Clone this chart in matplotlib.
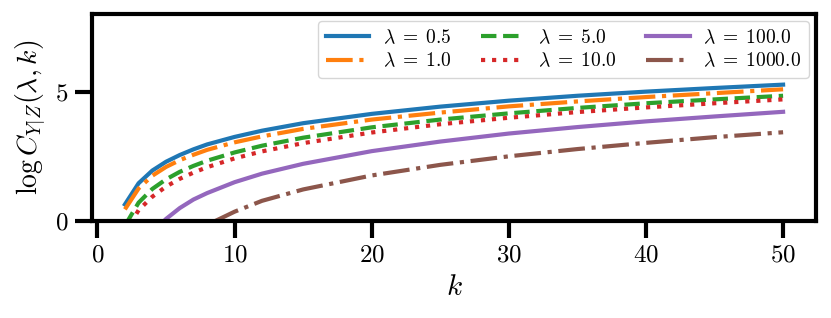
import matplotlib
matplotlib.use("Agg")
import matplotlib.pyplot as plt

plt.rcParams['font.family'] = 'serif'
plt.rcParams['font.serif'] = ['cmr10', 'DejaVu Serif']
plt.rcParams['mathtext.fontset'] = 'cm'
plt.rcParams['axes.formatter.use_mathtext'] = True

# k values sampled along the curves
k = [2, 3, 4, 5, 6, 7, 8, 10, 12, 15, 20, 25, 30, 35, 40, 45, 50]

lambdas = [0.5, 1.0, 5.0, 10.0, 100.0, 1000.0]

logC_05 = [0.64, 1.46, 1.95, 2.29, 2.55, 2.77, 2.96, 3.25, 3.49, 3.78, 4.14, 4.42, 4.65, 4.84, 5.00, 5.14, 5.27]
logC_1 = [0.45, 1.26, 1.75, 2.09, 2.35, 2.56, 2.75, 3.04, 3.27, 3.56, 3.92, 4.19, 4.43, 4.62, 4.79, 4.94, 5.09]
logC_5 = [-0.18, 0.71, 1.24, 1.61, 1.90, 2.13, 2.33, 2.65, 2.91, 3.22, 3.62, 3.92, 4.16, 4.37, 4.55, 4.70, 4.84]
logC_10 = [-0.45, 0.42, 0.94, 1.33, 1.63, 1.87, 2.08, 2.42, 2.69, 3.01, 3.42, 3.74, 3.99, 4.21, 4.39, 4.55, 4.70]
logC_100 = [-2.0, -1.1, -0.45, 0.08, 0.50, 0.83, 1.08, 1.50, 1.83, 2.21, 2.70, 3.07, 3.38, 3.63, 3.85, 4.04, 4.22]
logC_1000 = [-4.2, -2.9, -2.0, -1.4, -0.9, -0.5, -0.15, 0.36, 0.78, 1.22, 1.76, 2.17, 2.50, 2.78, 3.02, 3.24, 3.43]

series = [logC_05, logC_1, logC_5, logC_10, logC_100, logC_1000]
styles = ['-', '-.', '--', ':', '-', '-.']

fig = plt.figure(figsize=(8.31, 3.18), dpi=100)
ax = fig.add_axes([92 / 831, 97 / 318, 724 / 831, 207 / 318])

for i in range(len(series)):
    ax.plot(k, series[i], linestyle=styles[i], color='C%d' % i, linewidth=3,
            label=r'$\lambda \;=\; %s$' % lambdas[i])

ax.set_ylim(0, 8)
ax.set_xticks([0, 10, 20, 30, 40, 50])
ax.set_yticks([0, 5])
ax.set_xlabel(r'$k$', fontsize=21, labelpad=6)
ax.set_ylabel(r'$\log C_{Y|Z}(\lambda, k)$', fontsize=20, labelpad=6)
ax.tick_params(labelsize=18, width=3, length=12, pad=5)
for s in ax.spines.values():
    s.set_linewidth(3)

ax.legend(ncol=3, loc='upper right', fontsize=14, handlelength=2.25,
          handletextpad=0.7, columnspacing=1.5, labelspacing=0.25,
          framealpha=0.8, borderaxespad=0.35)

fig.savefig('out.png', dpi=100)
